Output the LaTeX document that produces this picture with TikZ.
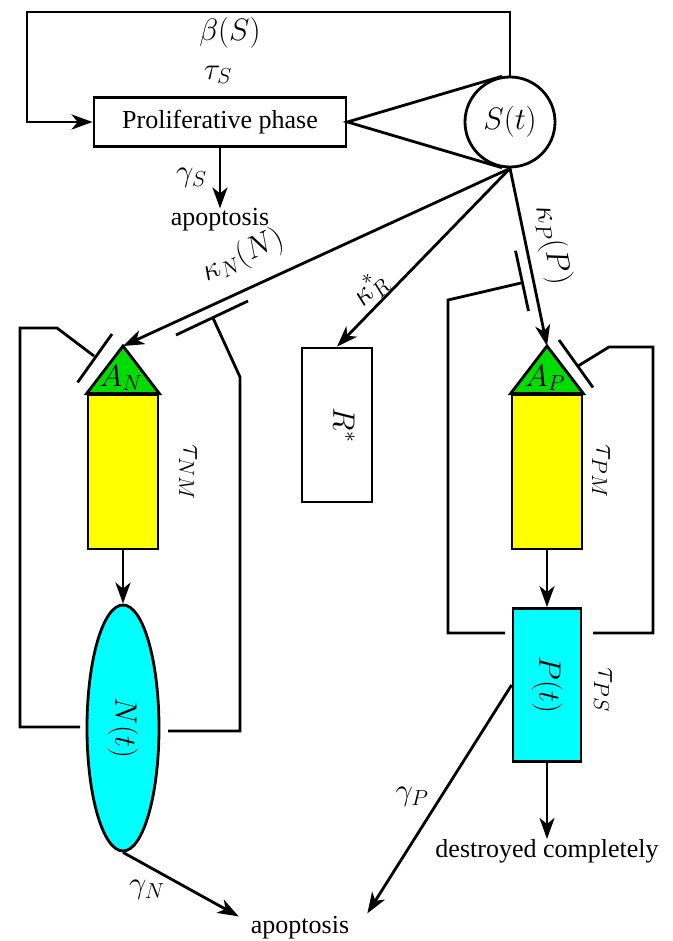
\RequirePackage{fix-cm}
\documentclass[tikz,border=0pt]{standalone}
\usepackage{fontspec}
\setmainfont{Liberation Serif}
\usetikzlibrary{shapes.geometric,arrows.meta,calc}
\definecolor{tgreen}{RGB}{0,220,0}
\definecolor{tyellow}{RGB}{255,255,0}
\definecolor{tcyan}{RGB}{0,255,255}
\tikzset{
  lw/.style={line width=2.8pt},
  arr/.style={lw, -{Stealth[length=21pt,width=15pt,inset=6pt]}},
  txt/.style={font=\fontsize{26}{31}\selectfont, inner sep=0pt},
  mth/.style={font=\fontsize{31}{37}\selectfont, inner sep=0pt},
  boxx/.style={draw, lw, rectangle, inner sep=0pt},
}
\begin{document}
\begin{tikzpicture}[x=1pt,y=-1pt]
\useasboundingbox (0,0) rectangle (672,941);
% nodes
\node[boxx, minimum width=252pt, minimum height=49pt, txt] (prolif) at (220,122) {Proliferative phase};
\node[draw, lw, circle, minimum size=90pt, inner sep=0pt, mth] (St) at (510,122) {$S(t)$};
\node[txt] (apopS) at (220,220) {apoptosis};
\node[boxx, fill=tyellow, minimum width=70pt, minimum height=154pt] (yN) at (123,472) {};
\coordinate (aN) at (123,346);
\filldraw[lw, fill=tgreen] (yN.north west) -- (aN) -- (yN.north east) -- cycle;
\node[mth] (AN) at (121,378) {$A_N$};
\node[draw, lw, ellipse, fill=tcyan, minimum width=72pt, minimum height=246pt, inner sep=0pt] (Nt) at (123,728) {};
\node[mth, rotate=-90] (Ntxt) at (Nt) {$N(t)$};
\node[boxx, minimum width=70pt, minimum height=154pt] (Rb) at (337,425) {};
\node[mth, rotate=-90] (Rtxt) at (344,425) {$R^*$};
\node[boxx, fill=tyellow, minimum width=70pt, minimum height=154pt] (yP) at (547,472) {};
\coordinate (aP) at (547,346);
\filldraw[lw, fill=tgreen] (yP.north west) -- (aP) -- (yP.north east) -- cycle;
\node[mth] (AP) at (545,378) {$A_P$};
\node[boxx, fill=tcyan, minimum width=68pt, minimum height=153pt] (Pt) at (547,685) {};
\node[mth, rotate=-90] (Ptxt) at (Pt) {$P(t)$};
\node[txt] (destr) at (547,851) {destroyed completely};
\node[txt] (apopB) at (300,928) {apoptosis};
% labels
\node[mth] (beta) at (230,33) {$\beta(S)$};
\node[mth] (tauS) at (218,75) {$\tau_S$};
\node[mth, rotate=25] (kN) at (243,256) {$\kappa_N(N)$};
\node[mth, rotate=46] (kR) at (370,290) {$\kappa^*_R$};
\node[mth, rotate=-78] (kP) at (552,245) {$\kappa_P(P)$};
\node[mth, rotate=-90] (tNM) at (188,472) {$\tau_{NM}$};
\node[mth, rotate=-90] (tPM) at (601,471) {$\tau_{PM}$};
\node[mth, rotate=-90] (tPS) at (603,690) {$\tau_{PS}$};
\node[mth] (gN) at (147,890) {$\gamma_N$};
\node[mth] (gP) at (412,797) {$\gamma_P$};
% connectors
\coordinate (tl) at (27,12);
\draw[arr] (St.north) |- (tl) |- (prolif.west);
\draw[lw] (St.100) -- (prolif.east) -- (St.260);
\draw[arr] (prolif.south) -- node[mth, left=12pt] {$\gamma_S$} (apopS.north);
\draw[arr] (St.south) -- (aN);
\draw[arr] (St.south) -- (Rb.north);
\draw[arr] (St.south) -- (aP);
\draw[arr] (yN.south) -- (Nt.north);
\draw[arr] (yP.south) -- (Pt.north);
\draw[arr] (Nt.south) -- ($(apopB.north west)+(-12,0)$);
\draw[arr] (Pt.west) -- ($(apopB.north east)+(18,-3)$);
\draw[arr] (Pt.south) -- (destr.north);
% feedback loops with inhibition bars
\coordinate (nl0) at (80,727);
\coordinate (nl1) at (20,328);
\coordinate (nl2) at (94,356);
\draw[lw] (nl0) -| (nl1) -- (57,328) -- (nl2);
\draw[lw] (77.6,382.4) -- (112,334);
\coordinate (nr0) at (168,731);
\coordinate (nr1) at (240,377);
\coordinate (nr2) at (213,318);
\draw[lw] (nr0) -| (nr1) -- (nr2);
\draw[lw] (176,335) -- (248,301);
\coordinate (pl0) at (505,633);
\coordinate (pl1) at (448,300);
\coordinate (pl2) at (521,283);
\draw[lw] (pl0) -| (pl1) -- (pl2);
\draw[lw] (515.5,250.7) -- (528.5,311);
\coordinate (pr0) at (593,633);
\coordinate (pr1) at (653,347);
\coordinate (pr2) at (578,366);
\draw[lw] (pr0) -| (pr1) -- (609,347) -- (pr2);
\draw[lw] (559,340) -- (593,387.5);
\end{tikzpicture}
\end{document}
